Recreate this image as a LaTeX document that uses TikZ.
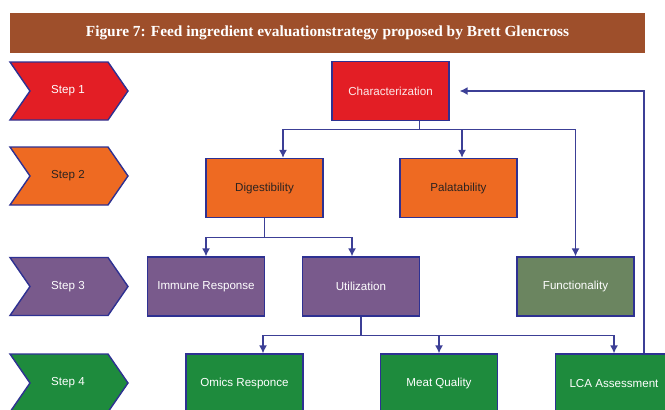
\documentclass[tikz,border=0pt]{standalone}
\usepackage{fontspec}
\setmainfont{Liberation Serif}
\newfontfamily\boxfont{Liberation Sans}
\usetikzlibrary{arrows.meta}

\definecolor{titlebrown}{HTML}{9E4F2B}
\definecolor{boxblue}{HTML}{2E3192}
\definecolor{linkblue}{HTML}{3C3F96}
\definecolor{stepred}{HTML}{E31E25}
\definecolor{steporange}{HTML}{EE6A22}
\definecolor{steppurple}{HTML}{795A8C}
\definecolor{stepgreen}{HTML}{1E8B3D}
\definecolor{funcgreen}{HTML}{6B8560}
\definecolor{darktext}{HTML}{2B2320}

\tikzset{
  box/.style={draw=boxblue,line width=0.8pt,minimum width=2.34cm,minimum height=1.18cm,
    inner sep=0pt,text=white,font=\boxfont\fontsize{6.6}{8}\selectfont},
  link/.style={draw=linkblue,line width=0.7pt},
  arr/.style={link,-{Latex[length=4.5pt,width=4.5pt]}}
}

\begin{document}
\begin{tikzpicture}[x=0.02cm,y=-0.02cm]
\useasboundingbox (0,0) rectangle (665,409);

% title bar
\node[fill=titlebrown,text=white,minimum width=12.7cm,minimum height=0.8cm,
  font=\bfseries\fontsize{8.75}{10}\selectfont] (title) at (327.5,33)
  {Figure 7: Feed ingredient evaluationstrategy proposed by Brett Glencross};

% steps
\foreach \n/\y/\c/\t in {1/91/stepred/white,2/176/steporange/darktext,3/286.5/steppurple/white,4/383/stepgreen/white}{
  \draw[boxblue,line width=0.8pt,fill=\c] (10,\y-29) -- (108,\y-29) -- (128,\y) -- (108,\y+29) -- (10,\y+29) -- (30,\y) -- cycle;
  \node[text=\t,font=\boxfont\fontsize{6.6}{8}\selectfont] (step\n) at (68,\y) {Step \n};
}

% boxes
\node[box,fill=stepred,text=white!90!stepred] (char) at (390.5,91) {Characterization};
\node[box,fill=steporange,text=darktext] (dig) at (264.5,188) {Digestibility};
\node[box,fill=steporange,text=darktext] (pal) at (458.5,188) {Palatability};
\node[box,fill=steppurple] (imm) at (206,286.5) {Immune Response};
\node[box,fill=steppurple] (util) at (361,286.5) {Utilization};
\node[box,fill=funcgreen] (func) at (575.5,286.5) {Functionality};
\node[box,fill=stepgreen] (omics) at (244.5,383.5) {Omics Responce};
\node[box,fill=stepgreen] (meat) at (439,383.5) {Meat Quality};
\node[box,fill=stepgreen] (lca) at (614,383.5) {LCA Assessment};

% connectors
\draw[link] ([xshift=0.58cm]char.south) -- ++(0,8) coordinate (j1);
\draw[arr] (j1) -| ([xshift=0.37cm]dig.north);
\draw[arr] (j1) -| ([xshift=0.07cm]pal.north);
\draw[arr] (j1) -| (func.north);

\draw[link] (dig.south) -- ++(0,19) coordinate (j2);
\draw[arr] (j2) -| (imm.north);
\draw[arr] (j2) -| ([xshift=-0.18cm]util.north);

\draw[link] (util.south) -- ++(0,19) coordinate (j3);
\draw[arr] (j3) -| ([xshift=0.37cm]omics.north);
\draw[arr] (j3) -| (meat.north);
\draw[arr] (j3) -| (lca.north);

\draw[arr] ([xshift=0.6cm]lca.north) |- ([xshift=0.2cm]char.east);
\end{tikzpicture}
\end{document}
